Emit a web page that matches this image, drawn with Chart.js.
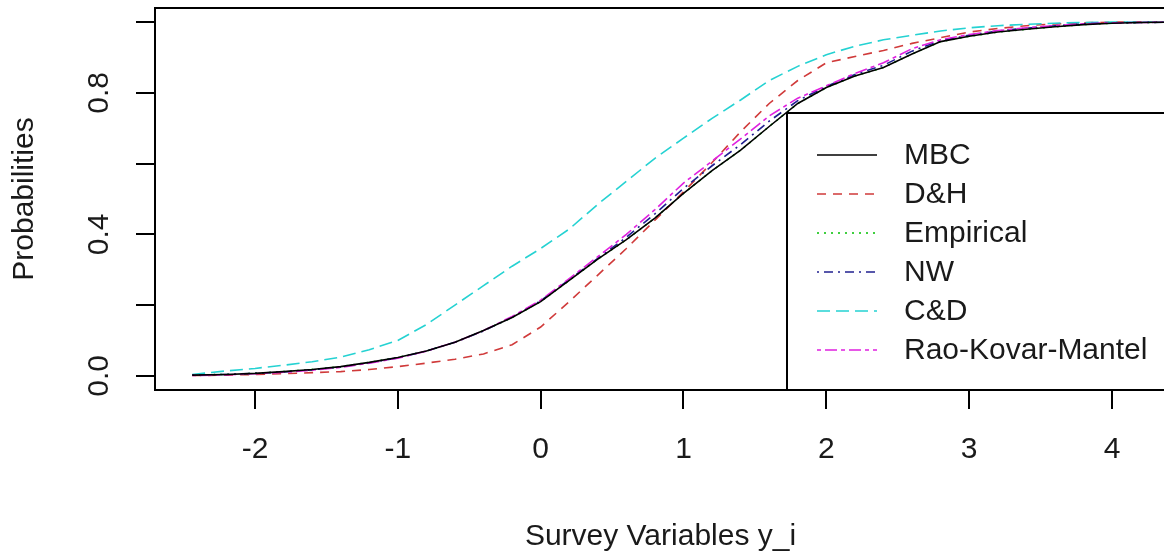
<!DOCTYPE html>
<html>
<head>
<meta charset="utf-8">
<title>ECDF comparison</title>
<script src="https://cdn.jsdelivr.net/npm/chart.js@4.4.1/dist/chart.umd.min.js"></script>
<style>
  html, body { margin: 0; padding: 0; background: #fff; overflow: hidden; }
  #wrap { width: 1164px; height: 551px; overflow: hidden; position: relative; }
  #wrap canvas { position: absolute; left: 0; top: 0; }
</style>
</head>
<body>
<div id="wrap"><canvas id="c" width="1170" height="551"></canvas></div>
<script>
// values
const xs = [-2.44, -2.2, -2.0, -1.8, -1.6, -1.4, -1.2, -1.0, -0.8, -0.6, -0.4, -0.2, 0.0, 0.2, 0.4, 0.6, 0.8,
            1.0, 1.2, 1.4, 1.6, 1.8, 2.0, 2.2, 2.4, 2.6, 2.8, 3.0, 3.2, 3.4, 3.6, 3.8, 4.0, 4.2, 4.4];
const mbc = [0.002, 0.004, 0.007, 0.012, 0.018, 0.026, 0.038, 0.052, 0.07, 0.095, 0.128, 0.165, 0.21, 0.27, 0.33, 0.385, 0.446,
             0.516, 0.58, 0.638, 0.705, 0.77, 0.815, 0.848, 0.872, 0.91, 0.945, 0.96, 0.972, 0.98, 0.987, 0.993, 0.997, 0.999, 1.0];
const dh = [0.001, 0.002, 0.004, 0.006, 0.009, 0.012, 0.018, 0.026, 0.036, 0.047, 0.062, 0.088, 0.138, 0.21, 0.285, 0.36, 0.44,
            0.52, 0.603, 0.69, 0.77, 0.835, 0.885, 0.903, 0.92, 0.94, 0.956, 0.972, 0.982, 0.99, 0.995, 0.998, 1.0, 1.0, 1.0];
const empirical = [0.002, 0.004, 0.007, 0.012, 0.018, 0.026, 0.038, 0.052, 0.07, 0.095, 0.128, 0.165, 0.21, 0.27, 0.33, 0.385, 0.446,
                   0.516, 0.58, 0.638, 0.705, 0.77, 0.815, 0.848, 0.872, 0.91, 0.945, 0.96, 0.972, 0.98, 0.987, 0.993, 0.997, 0.999, 1.0];
const nw = [0.002, 0.004, 0.007, 0.011, 0.017, 0.025, 0.037, 0.051, 0.07, 0.095, 0.127, 0.166, 0.212, 0.272, 0.332, 0.392, 0.458,
            0.53, 0.594, 0.654, 0.72, 0.778, 0.818, 0.852, 0.878, 0.918, 0.948, 0.963, 0.975, 0.983, 0.99, 0.995, 0.998, 0.999, 1.0];
const cd = [0.004, 0.014, 0.021, 0.03, 0.04, 0.053, 0.074, 0.1, 0.145, 0.2, 0.255, 0.31, 0.36, 0.415, 0.485, 0.55, 0.615,
            0.672, 0.728, 0.78, 0.835, 0.875, 0.908, 0.932, 0.95, 0.963, 0.975, 0.984, 0.99, 0.994, 0.997, 0.999, 1.0, 1.0, 1.0];
const rao = [0.001, 0.003, 0.006, 0.01, 0.016, 0.024, 0.036, 0.05, 0.07, 0.095, 0.128, 0.168, 0.214, 0.275, 0.337, 0.4, 0.47,
             0.545, 0.607, 0.67, 0.735, 0.785, 0.82, 0.855, 0.885, 0.925, 0.95, 0.965, 0.976, 0.984, 0.99, 0.995, 0.998, 0.999, 1.0];

const seriesNames = ['MBC', 'D&H', 'Empirical', 'NW', 'C&D', 'Rao-Kovar-Mantel'];
const xTicks = [-2, -1, 0, 1, 2, 3, 4];
const yTicks = [0, 0.2, 0.4, 0.6, 0.8, 1.0];
const yTickLabels = ['0.0', '', '0.4', '', '0.8', ''];

const FONT = "'Liberation Sans', Arial, sans-serif";

function pts(ys) {
    return xs.map((x, i) => ({ x: x, y: ys[i] }));
}

// look of each series (R-style colours / line types)
const styles = [
    { data: mbc,       color: '#000000', dash: [],            order: 1 },
    { data: dh,        color: '#d03a3a', dash: [9, 7],        order: 5 },
    { data: empirical, color: '#00c000', dash: [2, 5],        order: 6 },
    { data: nw,        color: '#202090', dash: [2, 5, 9, 5],  order: 3 },
    { data: cd,        color: '#25d2d2', dash: [13, 6],       order: 4 },
    { data: rao,       color: '#e020e0', dash: [4, 4, 12, 4], order: 2 }
];

const datasets = styles.map((s, i) => ({
    label: seriesNames[i],
    data: pts(s.data),
    borderColor: s.color,
    borderDash: s.dash,
    borderWidth: 1.6,
    pointRadius: 0,
    fill: false,
    tension: 0,
    order: s.order
}));

// plot frame
const boxPlugin = {
    id: 'box',
    afterDraw(chart) {
        const a = chart.chartArea, ctx = chart.ctx;
        ctx.save();
        ctx.strokeStyle = '#000';
        ctx.lineWidth = 2;
        ctx.strokeRect(a.left, a.top, a.right - a.left, a.bottom - a.top);
        ctx.restore();
    }
};

// R-like legend box in bottom right
const legendPlugin = {
    id: 'rlegend',
    afterDatasetsDraw(chart) {
        const a = chart.chartArea, ctx = chart.ctx;
        const left = 787, top = 113;
        ctx.save();
        ctx.fillStyle = '#fff';
        ctx.fillRect(left, top, a.right - left, a.bottom - top);
        ctx.strokeStyle = '#000';
        ctx.lineWidth = 2;
        ctx.strokeRect(left, top, a.right - left, a.bottom - top);
        ctx.font = '30px ' + FONT;
        ctx.textBaseline = 'middle';
        chart.data.datasets.forEach((ds, i) => {
            const y = 155 + i * 39;
            ctx.beginPath();
            ctx.setLineDash(ds.borderDash);
            ctx.strokeStyle = ds.borderColor;
            ctx.lineWidth = 1.6;
            ctx.moveTo(817, y);
            ctx.lineTo(877, y);
            ctx.stroke();
            ctx.setLineDash([]);
            ctx.fillStyle = '#1a1a1a';
            ctx.fillText(ds.label, 904, y + 1);
        });
        ctx.restore();
    }
};

new Chart(document.getElementById('c'), {
    type: 'line',
    data: { datasets: datasets },
    options: {
        responsive: false,
        animation: false,
        events: [],
        layout: { padding: { top: 8, right: 4, left: 0, bottom: 0 } },
        plugins: {
            legend: { display: false },
            tooltip: { enabled: false }
        },
        scales: {
            x: {
                type: 'linear',
                min: -2.70,
                max: 4.378,
                afterBuildTicks: s => { s.ticks = xTicks.map(v => ({ value: v })); },
                afterFit: s => { s.height = 161; s.paddingLeft = 0; s.paddingRight = 0; },
                border: { display: false },
                grid: { drawOnChartArea: false, drawTicks: true, tickLength: 19, color: '#000', lineWidth: 2 },
                ticks: {
                    autoSkip: false,
                    maxRotation: 0,
                    padding: 23,
                    color: '#1a1a1a',
                    font: { family: FONT, size: 30 },
                    callback: v => String(v)
                },
                title: {
                    display: true,
                    text: 'Survey Variables y_i',
                    color: '#1a1a1a',
                    font: { family: FONT, size: 30, lineHeight: 1 },
                    padding: { top: 0, bottom: -1 }
                }
            },
            y: {
                type: 'linear',
                min: -0.04,
                max: 1.04,
                afterBuildTicks: s => { s.ticks = yTicks.map(v => ({ value: v })); },
                afterFit: s => { s.width = 155; s.paddingTop = 0; s.paddingBottom = 0; },
                border: { display: false },
                grid: { drawOnChartArea: false, drawTicks: true, tickLength: 19, color: '#000', lineWidth: 2 },
                ticks: {
                    autoSkip: false,
                    minRotation: 90,
                    maxRotation: 90,
                    crossAlign: 'center',
                    padding: 15,
                    color: '#1a1a1a',
                    font: { family: FONT, size: 30 },
                    callback: v => yTickLabels[yTicks.indexOf(v)] ?? ''
                },
                title: {
                    display: true,
                    text: 'Probabilities',
                    color: '#1a1a1a',
                    font: { family: FONT, size: 30, lineHeight: 1 },
                    padding: { top: 10, bottom: 0 }
                }
            }
        }
    },
    plugins: [boxPlugin, legendPlugin]
});
</script>
</body>
</html>
